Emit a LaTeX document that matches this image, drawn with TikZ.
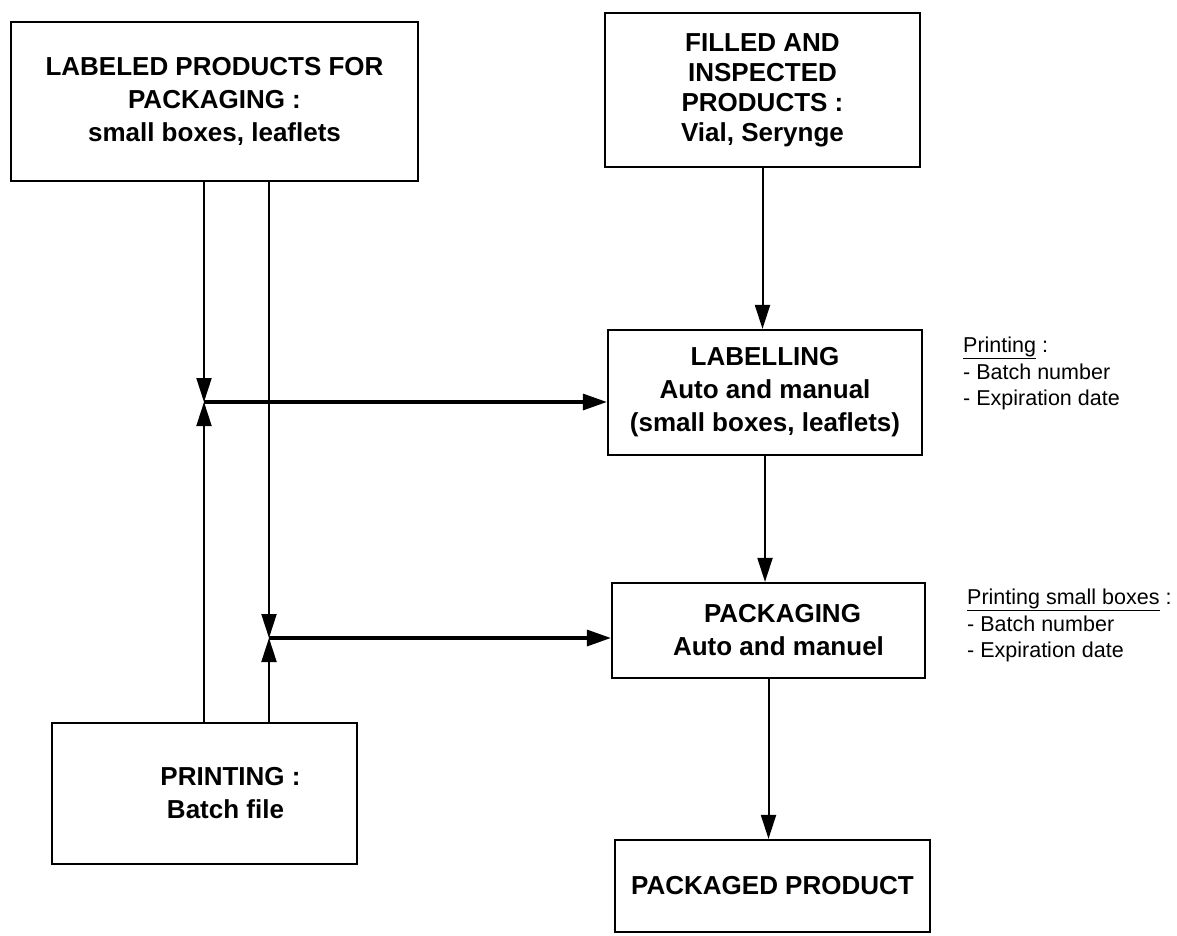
\documentclass[tikz,border=0pt]{standalone}
\usepackage{fontspec}
\setmainfont{Liberation Sans}
\usetikzlibrary{arrows.meta}
\tikzset{
  box/.style={draw, line width=2.2pt, rectangle, inner sep=0pt, align=center,
    font=\bfseries\fontsize{26}{33}\selectfont},
  varr/.style={line width=2pt, -{Triangle[length=24pt,width=15pt]}},
  harr/.style={line width=3.2pt, -{Triangle[length=24pt,width=16pt]}},
  note/.style={anchor=north west, inner sep=0pt, align=left,
    font=\fontsize{21.5}{26.5}\selectfont}
}
\begin{document}
\begin{tikzpicture}[x=1pt, y=-1pt]
\useasboundingbox (0,0) rectangle (1177,935);

% boxes
\node[box, minimum width=407pt, minimum height=159pt] (A) at (214.5,101.5)
  {LABELED PRODUCTS FOR\\PACKAGING :\\small boxes, leaflets};
\node[box, minimum width=315pt, minimum height=154pt, font=\bfseries\fontsize{26}{30}\selectfont] (B) at (762.5,90)
  {FILLED AND\\INSPECTED\\PRODUCTS :\\Vial, Serynge};
\node[box, minimum width=314pt, minimum height=125pt] (lab) at (765,392.5)
  {LABELLING\\Auto and manual\\(small boxes, leaflets)};
\node[box, minimum width=313pt, minimum height=95pt] (pk) at (768.5,630.5)
  {\hspace*{28pt}PACKAGING\\\hspace*{20pt}Auto and manuel};
\node[box, minimum width=315pt, minimum height=92pt] (pp) at (772.5,886)
  {PACKAGED PRODUCT};
\node[box, minimum width=305pt, minimum height=141pt] (pr) at (204.5,793.5)
  {\hspace*{52pt}PRINTING :\\\hspace*{42pt}Batch file};

% junctions
\coordinate (J1) at (204,402);
\coordinate (J2) at (269,638);

% left verticals
\draw[varr] (A.south -| J1) -- (J1);
\draw[varr] (A.south -| J2) -- (J2);
\draw[varr] (pr.north -| J1) -- (J1);
\draw[varr] (pr.north -| J2) -- (J2);

% horizontals
\draw[harr] (J1) -- (lab.west |- J1);
\draw[harr] (J2) -- (pk.west |- J2);

% main flow
\draw[varr] (B.south) -- (B.south |- lab.north);
\draw[varr] (lab.south) -- (lab.south |- pk.north);
\draw[varr] (pk.south) -- (pk.south |- pp.north);

% notes
\node[note] (n1) at (963,337)
  {\underline{Printing} :\\- Batch number\\- Expiration date};
\node[note] (n2) at (967,589)
  {\underline{Printing small boxes} :\\- Batch number\\- Expiration date};
\end{tikzpicture}
\end{document}
